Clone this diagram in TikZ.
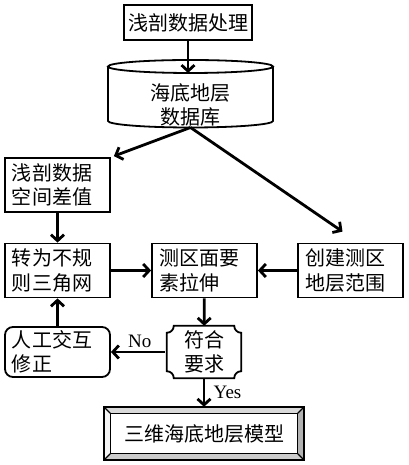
\documentclass[tikz,border=0pt]{standalone}
\usepackage{fontspec}
\setmainfont{Liberation Serif}
\newfontfamily\cjk{Noto Sans CJK SC}
\usetikzlibrary{arrows.meta}

\begin{document}
\begin{tikzpicture}[x=1pt,y=1pt,
    font=\fontsize{19}{24}\selectfont,
    arr/.style={line width=2.8pt,-{Straight Barb[length=6pt,width=13pt]}},
    stepbox/.style={draw,line width=1.8pt,text width=91pt,inner xsep=7pt,inner ysep=2pt,
        minimum height=54pt,align=left,font=\fontsize{20}{24.5}\selectfont\cjk},
    plain/.style={inner sep=0pt,font=\fontsize{20}{24.5}\selectfont\cjk}]
    \useasboundingbox (0,0) rectangle (408,465);

    % top process and database
    \node[draw,line width=1.8pt,minimum width=128pt,minimum height=35pt,plain] (proc) at (188,442.5) {浅剖数据处理};
    \draw[line width=1.8pt] (190.5,398.5) ellipse [x radius=82.5,y radius=6.5];
    \draw[line width=1.8pt] (108,398.5) -- (108,344) arc[start angle=180,end angle=360,x radius=82.5,y radius=6.5] -- (273,398.5);
    \node[plain,align=center] (db) at (190.5,360) {海底地层\\数据库};
    \coordinate (dbtop) at (190.5,392);
    \coordinate (dbbot) at (190.5,337.5);

    % boxes
    \foreach \name/\x/\y/\txt in {interp/57.5/280/{浅剖数据\\空间差值},
                                  tin/57.5/194.5/{转为不规\\则三角网},
                                  extrude/204.5/194.5/{测区面要\\素拉伸},
                                  range/350.5/194.5/{创建测区\\地层范围}}{
        \node[stepbox] (\name) at (\x,\y) {\txt};
    }
    \node[stepbox,rounded corners=8pt,minimum height=50pt] (edit) at (57.5,113) {人工交互\\修正};

    % decision with concave corners
    \node[plain,minimum width=74pt,minimum height=52pt,align=left] (check) at (204,113) {符合\\要求};
    \draw[line width=1.8pt] ([yshift=-7pt]check.north west) arc[start angle=-90,end angle=0,radius=7pt]
        -- ([xshift=-7pt]check.north east) arc[start angle=180,end angle=270,radius=7pt]
        -- ([yshift=7pt]check.south east) arc[start angle=90,end angle=180,radius=7pt]
        -- ([xshift=7pt]check.south west) arc[start angle=0,end angle=90,radius=7pt] -- cycle;

    % result with bevel
    \node[plain,minimum width=200pt,minimum height=53pt] (model) at (204,31.5) {三维海底地层模型};
    \def\b{6.5pt}
    \fill[gray!8] (model.north west) -- (model.south west) -- ([shift={(\b,\b)}]model.south west) -- ([shift={(\b,-\b)}]model.north west) -- cycle;
    \fill[gray!30] (model.north west) -- (model.north east) -- ([shift={(-\b,-\b)}]model.north east) -- ([shift={(\b,-\b)}]model.north west) -- cycle;
    \fill[gray!60] (model.north east) -- (model.south east) -- ([shift={(-\b,\b)}]model.south east) -- ([shift={(-\b,-\b)}]model.north east) -- cycle;
    \fill[gray!40] (model.south west) -- (model.south east) -- ([shift={(-\b,\b)}]model.south east) -- ([shift={(\b,\b)}]model.south west) -- cycle;
    \draw[line width=1.8pt] (model.north west) rectangle (model.south east);
    \draw[line width=1.5pt] ([shift={(\b,-\b)}]model.north west) rectangle ([shift={(-\b,\b)}]model.south east);
    \foreach \a/\sx/\sy in {north west/1/-1,north east/-1/-1,south east/-1/1,south west/1/1}
        \draw[line width=1.2pt] (model.\a) -- ([shift={(\sx*\b,\sy*\b)}]model.\a);

    % connectors
    \draw[arr] (proc.south) -- (proc.south |- dbtop);
    \draw[arr] (dbbot) -- ([shift={(3pt,1pt)}]interp.north east);
    \draw[arr] (dbbot) -- ([shift={(-8pt,11pt)}]range.north);
    \draw[arr] (interp) -- (tin);
    \draw[arr] (tin) -- (extrude);
    \draw[arr] (range) -- (extrude);
    \draw[arr] (extrude) -- (check);
    \draw[arr] ([xshift=-2pt]check.west) -- node[above,xshift=2pt,font=\fontsize{19}{24}\selectfont] {No} (edit.east);
    \draw[arr] (edit) -- (tin);
    \draw[arr] (check) -- node[right,xshift=5pt,font=\fontsize{19}{24}\selectfont] {Yes} (model);
\end{tikzpicture}
\end{document}
